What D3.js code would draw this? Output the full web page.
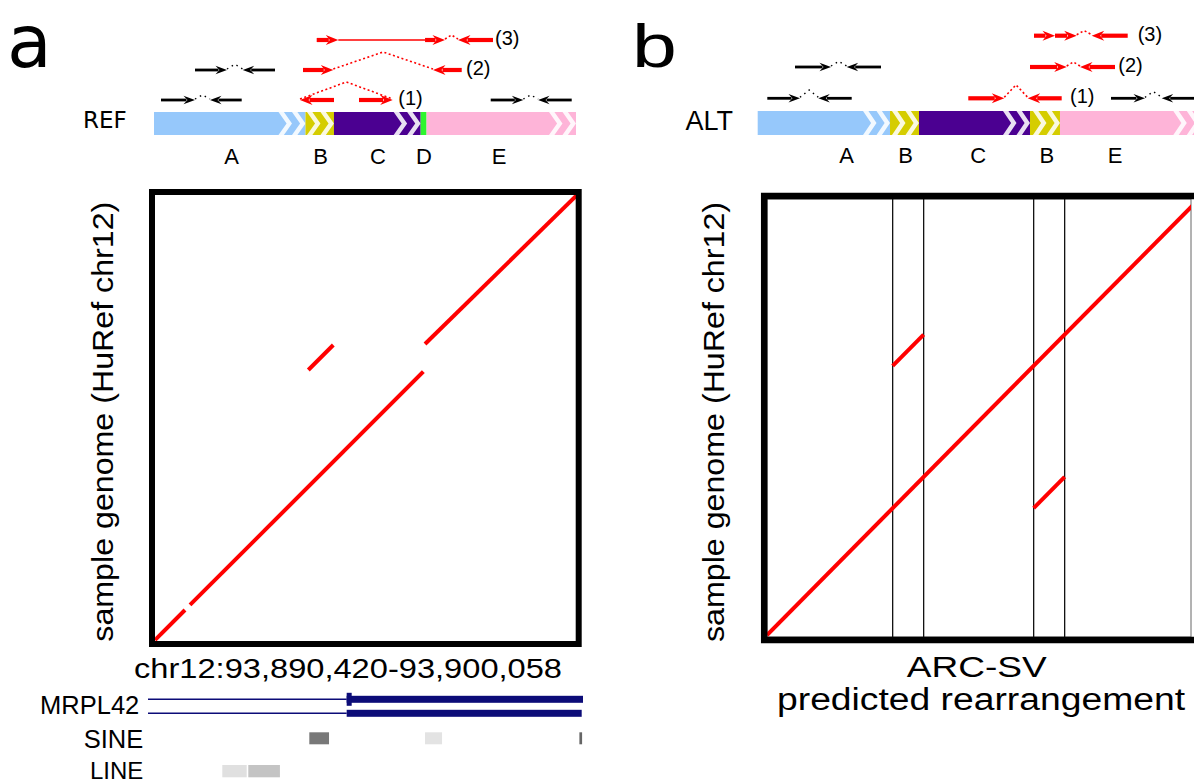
<!DOCTYPE html>
<html><head><meta charset="utf-8">
<script src="https://cdn.jsdelivr.net/npm/d3@7"></script>
<style>body{margin:0;background:#fff} svg{display:block}</style>
</head><body>
<svg id="fig" width="1194" height="782"></svg>
<script>
// ================= DATA =================
// Reference (REF) haplotype segments, bp offsets from chr12:93,890,420
const refNames    = ["A", "B", "C", "D", "E"];
const refStarts   = [0, 3460, 4110, 6090, 6225];
const refEnds     = [3460, 4110, 6090, 6225, 9638];
const refLabelAt  = [1775, 3807, 5116, 6167, 7880];
const refChevrons = [2, 2, 2, 0, 2];

// Predicted ALT haplotype segments (schematic bp)
const altNames    = ["A", "B", "C", "B", "E"];
const altStarts   = [0, 2397, 2922, 4933, 5476];
const altEnds     = [2397, 2922, 4933, 5476, 8018];
const altLabelAt  = [1612, 2681, 3996, 5236, 6473];
const altChevrons = [2, 2, 2, 2, 2];

// read pairs: m1 = pieces [tail, head] of mate 1, m2 = [tail, head] of mate 2
const refPairs = [
  {row: 0, kind: "concordant", m1: [[160, 936]],  m2: [2003, 1279]},
  {row: 1, kind: "concordant", m1: [[936, 1667]], m2: [2764, 2026]},
  {row: 0, kind: "concordant", m1: [[7690, 8435]], m2: [9540, 8771]},
  {row: 0, kind: "discordant", label: "(1)", labelAt: 5580, m1: [[4111, 3335]], m2: [4682, 5452]},
  {row: 1, kind: "discordant", label: "(2)", labelAt: 7126, m1: [[3403, 4095]], m2: [7028, 6372]},
  {row: 2, kind: "discordant", label: "(3)", labelAt: 7788, m1: [[3716, 4209], [6190, 6646]], m2: [7743, 6943]}
];
const altPairs = [
  {row: 0, kind: "concordant", m1: [[174, 766]],  m2: [1703, 1098]},
  {row: 1, kind: "concordant", m1: [[676, 1328]], m2: [2234, 1612]},
  {row: 0, kind: "concordant", m1: [[6400, 7016]], m2: [7909, 7319]},
  {row: 0, kind: "discordant", label: "(1)", labelAt: 5658, m1: [[3815, 4467]], m2: [5507, 4891]},
  {row: 1, kind: "discordant", label: "(2)", labelAt: 6533, m1: [[4933, 5598]], m2: [6473, 5839]},
  {row: 2, kind: "discordant", label: "(3)", labelAt: 6884, m1: [[5005, 5386], [5386, 5779]], m2: [6703, 6051]}
];

// Dot plot (a): reference bp (x) vs sample genome bp (y)
const refLength = 9638, sampleLength = 10160;
const dotRefX1 = [0, 800, 3501, 6167];
const dotRefX2 = [685, 6128, 4072, 9638];
const dotRefY1 = [0, 800, 6165, 6758];
const dotRefY2 = [685, 6126, 6735, 10160];

// Dot plot (b): ALT bp (x) vs sample genome bp (y)
const altLength = 8018;
const altBreaks = [2311, 2881, 4904, 5474];
const dotAltX1 = [0, 2311, 4904];
const dotAltX2 = [8018, 2881, 5474];
const dotAltY1 = [0, 4904, 2311];
const dotAltY2 = [8018, 5474, 2881];

// Annotation tracks (genomic coordinates)
const trackStart = 93890420, trackEnd = 93900058;
const txLineStart = [93890420, 93890420];
const txLineEnd   = [93894822, 93894822];
const txExonStart = [93894822, 93894822];
const txExonEnd   = [93900058, 93900029];
const txCdsStart  = [93894822, null];
const txCdsEnd    = [93894933, null];
const sineStarts = [93893994, 93896558, 93899978];
const sineEnds   = [93894431, 93896935, 93900038];
const sineScore  = [0.53, 0.11, 0.60];
const lineStarts = [93892066, 93892642];
const lineEnds   = [93892607, 93893343];
const lineScore  = [0.12, 0.23];

const segColors = {A: "#96c8fb", B: "#d5cd00", C: "#4b0091", D: "#2ef52e", E: "#feb4d8"};

// ================= DRAW =================
const svg = d3.select("#fig");
const SANS = "Liberation Sans, Arial, Helvetica, sans-serif";

const defs = svg.append("defs");
defs.append("clipPath").attr("id", "clipA").append("rect")
  .attr("x", 155).attr("y", 195).attr("width", 421).attr("height", 446);
defs.append("clipPath").attr("id", "clipB").append("rect")
  .attr("x", 767).attr("y", 199).attr("width", 424).attr("height", 438);

// panel letters
svg.append("text").attr("x", 7).attr("y", 66.7)
  .attr("font-family", "DejaVu Sans").attr("font-size", 73).text("a");
svg.append("text").attr("transform", "translate(632,66.7) scale(1.3,1)")
  .attr("font-family", SANS).attr("font-size", 62).text("b");

// REF / ALT labels
svg.append("text").attr("x", 83).attr("y", 128.3)
  .attr("font-family", "DejaVu Sans").attr("font-size", 23).text("REF");
svg.append("text").attr("x", 685.5).attr("y", 129.5)
  .attr("font-family", SANS).attr("font-size", 27).text("ALT");

function drawBar(names, starts, ends, labelAt, chevrons, xs, y0, h) {
  const g = svg.append("g");
  names.forEach((n, i) => {
    const x0 = xs(starts[i]), x1 = xs(ends[i]);
    g.append("rect").attr("x", x0).attr("y", y0).attr("width", x1 - x0).attr("height", h)
      .attr("fill", segColors[n]);
    const cw = Math.min(13.5, (x1 - x0) / Math.max(1, chevrons[i]));
    for (let k = 0; k < chevrons[i]; k++) {
      const c1 = x1 - k * cw, c0 = c1 - cw, arm = cw * 0.4;
      const pts = [[c0, y0], [c0 + arm, y0], [c1, y0 + h / 2], [c0 + arm, y0 + h],
                   [c0, y0 + h], [c1 - arm, y0 + h / 2]];
      g.append("polygon").attr("points", pts.map(p => p.join(",")).join(" "))
        .attr("fill", "#ffffff").attr("fill-opacity", 0.88);
    }
    g.append("text").attr("x", xs(labelAt[i])).attr("y", y0 + 52)
      .attr("text-anchor", "middle").attr("font-family", SANS).attr("font-size", 22).text(n);
  });
}

function arrow(g, xt, xh, y, col, lw) {
  const dir = Math.sign(xh - xt);
  const L = lw > 3 ? 12.5 : 11.5, W = lw > 3 ? 5 : 4.2;
  g.append("line").attr("x1", xt).attr("x2", xh - dir * (L - 3)).attr("y1", y).attr("y2", y)
    .attr("stroke", col).attr("stroke-width", lw);
  g.append("path")
    .attr("d", `M${xh},${y} L${xh - dir * L},${y - W} L${xh - dir * (L - 4)},${y} L${xh - dir * L},${y + W} Z`)
    .attr("fill", col);
}

function drawPairs(pairs, xs, rowY) {
  const g = svg.append("g");
  pairs.forEach(p => {
    const y = rowY(p.row);
    const red = p.kind === "discordant";
    const col = red ? "#ff0000" : "#000000";
    const lw = red ? 4.2 : 2.8;
    p.m1.forEach(r => arrow(g, xs(r[0]), xs(r[1]), y, col, lw));
    arrow(g, xs(p.m2[0]), xs(p.m2[1]), y, col, lw);
    for (let i = 1; i < p.m1.length; i++) {
      const a = xs(p.m1[i - 1][1]), b = xs(p.m1[i][0]);
      if (Math.abs(b - a) > 1) {
        g.append("line").attr("x1", a).attr("x2", b).attr("y1", y).attr("y2", y)
          .attr("stroke", col).attr("stroke-width", 1.3);
      }
    }
    const hA = xs(p.m1[p.m1.length - 1][1]), hB = xs(p.m2[1]);
    const gap = Math.abs(hB - hA);
    const rise = Math.min(18, 5 + Math.max(0, gap - 15));
    g.append("path").attr("d", `M${hA},${y - 1} L${(hA + hB) / 2},${y - rise} L${hB},${y - 1}`)
      .attr("fill", "none").attr("stroke", col).attr("stroke-width", red ? 1.6 : 1.4)
      .attr("stroke-dasharray", red ? "2,2.5" : "1.5,4");
    if (p.label) {
      g.append("text").attr("x", xs(p.labelAt)).attr("y", y + 5)
        .attr("font-family", SANS).attr("font-size", 20).text(p.label);
    }
  });
}

// ---- panel a top ----
const xBarA = d3.scaleLinear().domain([0, refLength]).range([154, 576]);
drawBar(refNames, refStarts, refEnds, refLabelAt, refChevrons, xBarA, 112, 23);
drawPairs(refPairs, xBarA, d3.scaleLinear().domain([0, 2]).range([100, 40]));

// ---- panel b top ----
const xBarB = d3.scaleLinear().domain([0, altLength]).range([757.7, 757.7 + altLength * 0.0552]);
drawBar(altNames, altStarts, altEnds, altLabelAt, altChevrons, xBarB, 111, 24);
drawPairs(altPairs, xBarB, d3.scaleLinear().domain([0, 2]).range([98.3, 35.7]));

// ---- dot plot a ----
const xA = d3.scaleLinear().domain([0, refLength]).range([155, 577]);
const yA = d3.scaleLinear().domain([0, sampleLength]).range([640, 195]);
const gA = svg.append("g");
gA.append("g").attr("clip-path", "url(#clipA)").selectAll("line").data(dotRefX1).join("line")
  .attr("x1", (d, i) => xA(dotRefX1[i])).attr("x2", (d, i) => xA(dotRefX2[i]))
  .attr("y1", (d, i) => yA(dotRefY1[i])).attr("y2", (d, i) => yA(dotRefY2[i]))
  .attr("stroke", "#ff0000").attr("stroke-width", 4);
gA.append("rect").attr("x", 152).attr("y", 192).attr("width", 426.7).attr("height", 452)
  .attr("fill", "none").attr("stroke", "#000").attr("stroke-width", 6);

svg.append("text").attr("x", 134).attr("y", 678).attr("textLength", 428)
  .attr("lengthAdjust", "spacingAndGlyphs")
  .attr("font-family", SANS).attr("font-size", 27).text("chr12:93,890,420-93,900,058");
svg.append("text").attr("transform", "translate(113.3,421.7) rotate(-90)")
  .attr("text-anchor", "middle").attr("textLength", 440).attr("lengthAdjust", "spacingAndGlyphs")
  .attr("font-family", SANS).attr("font-size", 29).text("sample genome (HuRef chr12)");

// ---- dot plot b ----
const xB = d3.scaleLinear().domain([0, altLength]).range([767, 1203]);
const yB = d3.scaleLinear().domain([0, altLength]).range([635, 195]);
const gB = svg.append("g");
gB.append("rect").attr("x", 767).attr("y", 199).attr("width", 424).attr("height", 438)
  .attr("fill", "none").attr("stroke", "#666").attr("stroke-width", 1);
gB.append("g").selectAll("line").data(altBreaks).join("line")
  .attr("x1", d => xB(d)).attr("x2", d => xB(d)).attr("y1", 199).attr("y2", 637)
  .attr("stroke", "#111").attr("stroke-width", 1.3);
gB.append("g").attr("clip-path", "url(#clipB)").selectAll("line").data(dotAltX1).join("line")
  .attr("x1", (d, i) => xB(dotAltX1[i])).attr("x2", (d, i) => xB(dotAltX2[i]))
  .attr("y1", (d, i) => yB(dotAltY1[i])).attr("y2", (d, i) => yB(dotAltY2[i]))
  .attr("stroke", "#ff0000").attr("stroke-width", 4);
gB.append("rect").attr("x", 764.2).attr("y", 196).attr("width", 460).attr("height", 444)
  .attr("fill", "none").attr("stroke", "#000").attr("stroke-width", 6.5);

svg.append("text").attr("transform", "translate(724,422) rotate(-90)")
  .attr("text-anchor", "middle").attr("textLength", 440).attr("lengthAdjust", "spacingAndGlyphs")
  .attr("font-family", SANS).attr("font-size", 29).text("sample genome (HuRef chr12)");
svg.append("text").attr("x", 976.7).attr("y", 676.7).attr("text-anchor", "middle")
  .attr("textLength", 140).attr("lengthAdjust", "spacingAndGlyphs")
  .attr("font-family", SANS).attr("font-size", 30).text("ARC-SV");
svg.append("text").attr("x", 981).attr("y", 710).attr("text-anchor", "middle")
  .attr("textLength", 408).attr("lengthAdjust", "spacingAndGlyphs")
  .attr("font-family", SANS).attr("font-size", 31).text("predicted rearrangement");

// ---- annotation tracks ----
const xT = d3.scaleLinear().domain([trackStart, trackEnd]).range([148, 583]);
const txY = d3.scaleLinear().domain([0, 1]).range([699.3, 713.3]);
const navy = "#0c0c78";
const gT = svg.append("g");
txLineStart.forEach((s, i) => {
  const y = txY(i);
  gT.append("line").attr("x1", xT(s)).attr("x2", xT(txLineEnd[i])).attr("y1", y).attr("y2", y)
    .attr("stroke", navy).attr("stroke-width", 1.5);
  gT.append("rect").attr("x", xT(txExonStart[i])).attr("y", y - 3.5)
    .attr("width", xT(txExonEnd[i]) - xT(txExonStart[i])).attr("height", 7).attr("fill", navy);
  if (txCdsStart[i] !== null) {
    gT.append("rect").attr("x", xT(txCdsStart[i])).attr("y", y - 6.5)
      .attr("width", xT(txCdsEnd[i]) - xT(txCdsStart[i])).attr("height", 13).attr("fill", navy);
  }
});
const grey = d3.scaleLinear().domain([0, 1]).range(["#ffffff", "#000000"]);
gT.selectAll("rect.sine").data(sineStarts).join("rect").attr("class", "sine")
  .attr("x", (d, i) => xT(d)).attr("width", (d, i) => xT(sineEnds[i]) - xT(d))
  .attr("y", 732.3).attr("height", 12).attr("fill", (d, i) => grey(sineScore[i]));
gT.selectAll("rect.lne").data(lineStarts).join("rect").attr("class", "lne")
  .attr("x", (d, i) => xT(d)).attr("width", (d, i) => xT(lineEnds[i]) - xT(d))
  .attr("y", 765).attr("height", 12.3).attr("fill", (d, i) => grey(lineScore[i]));

[["MRPL42", 139.3, 714, 25.5], ["SINE", 143.3, 748.3, 25.5], ["LINE", 143.3, 778.5, 24]].forEach(t => {
  svg.append("text").attr("x", t[1]).attr("y", t[2]).attr("text-anchor", "end")
    .attr("font-family", SANS).attr("font-size", t[3]).text(t[0]);
});
</script>
</body></html>
